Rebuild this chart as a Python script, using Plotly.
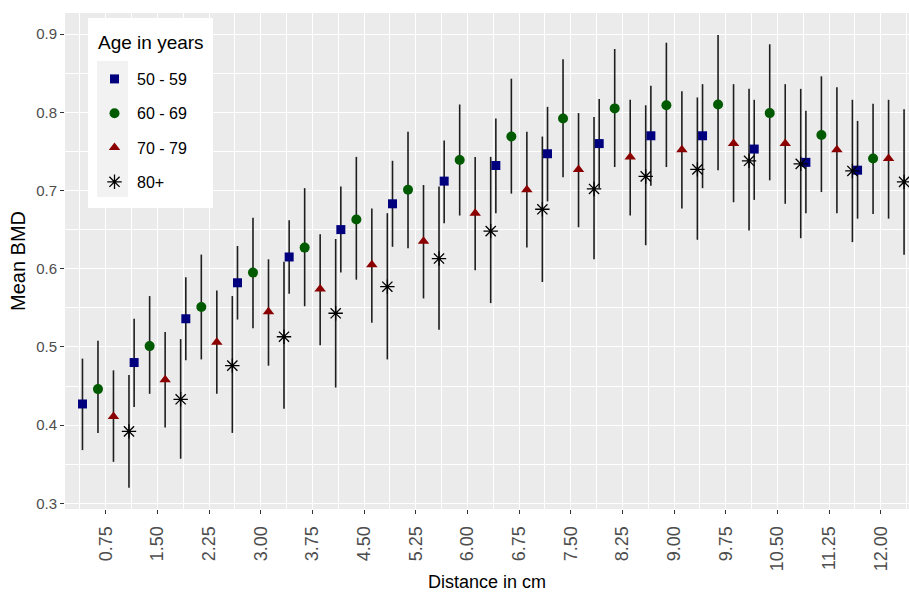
import plotly.graph_objects as go

# ---------------- data ----------------
distances = [0.75, 1.50, 2.25, 3.00, 3.75, 4.50, 5.25, 6.00,
             6.75, 7.50, 8.25, 9.00, 9.75, 10.50, 11.25, 12.00]

age_groups = ["50 - 59", "60 - 69", "70 - 79", "80+"]

mean_50_59 = [0.427, 0.480, 0.536, 0.582, 0.615, 0.650, 0.683, 0.712,
              0.732, 0.747, 0.760, 0.770, 0.770, 0.753, 0.736, 0.726]
low_50_59 = [0.368, 0.423, 0.483, 0.535, 0.568, 0.595, 0.628, 0.658,
             0.671, 0.686, 0.703, 0.706, 0.703, 0.688, 0.671, 0.664]
high_50_59 = [0.485, 0.536, 0.589, 0.629, 0.662, 0.705, 0.738, 0.764,
              0.792, 0.807, 0.817, 0.834, 0.836, 0.816, 0.802, 0.789]

mean_60_69 = [0.446, 0.501, 0.551, 0.595, 0.627, 0.663, 0.701, 0.739,
              0.769, 0.792, 0.805, 0.809, 0.810, 0.799, 0.771, 0.741]
low_60_69 = [0.390, 0.440, 0.484, 0.524, 0.552, 0.586, 0.626, 0.668,
             0.696, 0.717, 0.730, 0.730, 0.726, 0.713, 0.698, 0.670]
high_60_69 = [0.508, 0.565, 0.618, 0.665, 0.703, 0.743, 0.775, 0.810,
              0.843, 0.868, 0.881, 0.889, 0.899, 0.887, 0.846, 0.811]

mean_70_79 = [0.411, 0.458, 0.506, 0.545, 0.574, 0.605, 0.635, 0.671,
              0.701, 0.727, 0.743, 0.752, 0.760, 0.760, 0.752, 0.741]
low_70_79 = [0.353, 0.397, 0.440, 0.476, 0.502, 0.531, 0.562, 0.598,
             0.627, 0.653, 0.668, 0.677, 0.685, 0.683, 0.671, 0.664]
high_70_79 = [0.470, 0.519, 0.572, 0.612, 0.644, 0.677, 0.707, 0.743,
              0.775, 0.799, 0.816, 0.827, 0.836, 0.836, 0.832, 0.816]

mean_80 = [0.392, 0.433, 0.476, 0.513, 0.543, 0.577, 0.613, 0.648,
           0.676, 0.702, 0.718, 0.727, 0.738, 0.734, 0.725, 0.711]
low_80 = [0.320, 0.357, 0.390, 0.421, 0.448, 0.484, 0.522, 0.556,
          0.583, 0.612, 0.630, 0.637, 0.649, 0.639, 0.634, 0.618]
high_80 = [0.464, 0.510, 0.565, 0.609, 0.638, 0.671, 0.705, 0.743,
           0.769, 0.794, 0.809, 0.819, 0.830, 0.830, 0.816, 0.804]

y_tick_values = [0.3, 0.4, 0.5, 0.6, 0.7, 0.8, 0.9]
x_tick_values = distances

legend_title = "Age in years"

# ---------------- styling ----------------
series = [
    (age_groups[0], mean_50_59, low_50_59, high_50_59, "square", "#00007F", 9),
    (age_groups[1], mean_60_69, low_60_69, high_60_69, "circle", "#005A00", 10),
    (age_groups[2], mean_70_79, low_70_79, high_70_79, "triangle-up", "#8B0000", 10),
    (age_groups[3], mean_80, low_80, high_80, "asterisk-open", "#000000", 12),
]
dodge_width = 0.9
n = len(series)
offsets = [(i - (n - 1) / 2) * dodge_width / n for i in range(n)]

FONT = "Liberation Sans, Arial, sans-serif"

fig = go.Figure()

# error bars first (below points)
for (name, mean, low, high, sym, col, size), off in zip(series, offsets):
    xs = [d + off for d in distances]
    fig.add_trace(go.Scatter(
        x=xs, y=mean, mode="markers",
        marker=dict(size=1, opacity=0),
        error_y=dict(type="data", symmetric=False,
                     array=[h - m for h, m in zip(high, mean)],
                     arrayminus=[m - l for m, l in zip(mean, low)],
                     width=0, thickness=1.6, color="#1E1E1E"),
        showlegend=False, hoverinfo="skip",
    ))

for i, ((name, mean, low, high, sym, col, size), off) in enumerate(zip(series, offsets)):
    xs = [d + off for d in distances]
    if sym == "asterisk-open":
        marker = dict(symbol=sym, size=size, color=col, line=dict(color=col, width=1.3))
    else:
        marker = dict(symbol=sym, size=size, color=col, line=dict(width=0))
    fig.add_trace(go.Scatter(
        x=xs, y=mean, mode="markers", name=name,
        marker=marker, legendgroup=f"g{i}",
    ))

# pixel geometry helpers for legend box
L, R, T, B = 65, 909, 13, 509
def px_x(p):
    return (p - L) / (R - L)
def px_y(p):
    return (B - p) / (B - T)

fig.add_shape(type="rect", xref="paper", yref="paper",
              x0=px_x(88), x1=px_x(213), y0=px_y(208), y1=px_y(18),
              fillcolor="white", line=dict(width=0), layer="above")
fig.add_shape(type="rect", xref="paper", yref="paper",
              x0=px_x(97), x1=px_x(128), y0=px_y(197), y1=px_y(61),
              fillcolor="#F2F2F2", line=dict(width=0), layer="above")

fig.add_annotation(text=legend_title, xref="paper", yref="paper",
                   x=px_x(96), y=px_y(42), xanchor="left", yanchor="middle",
                   showarrow=False, font=dict(size=19, color="#000000", family=FONT))

fig.update_layout(
    width=909, height=592,
    margin=dict(l=L, r=909 - R, t=T, b=592 - B),
    paper_bgcolor="white",
    plot_bgcolor="#EBEBEB",
    font=dict(family=FONT, color="#000000"),
    legend=dict(
        font=dict(size=16, color="#000000"),
        x=px_x(92), xanchor="left",
        y=px_y(62), yanchor="top",
        bgcolor="rgba(0,0,0,0)",
        tracegroupgap=10.5,
        itemwidth=35,
    ),
    xaxis=dict(
        range=[0.159, 12.409],
        tickmode="array", tickvals=x_tick_values,
        ticktext=[f"{v:.2f}" for v in x_tick_values],
        tickangle=-90,
        tickfont=dict(size=18, color="#4D4D4D"),
        ticks="outside", ticklen=4, tickcolor="#333333", tickwidth=1,
        ticklabelstandoff=5,
        showgrid=True, gridcolor="white", gridwidth=1.2,
        minor=dict(tickmode="array",
                   tickvals=[d - 0.375 for d in distances] + [distances[-1] + 0.375],
                   showgrid=True, gridcolor="white", gridwidth=0.6, ticks=""),
        zeroline=False, showline=False,
        title=dict(text="Distance in cm", font=dict(size=18, color="#000000"), standoff=7),
        automargin=False,
    ),
    yaxis=dict(
        range=[0.2927, 0.927],
        tickmode="array", tickvals=y_tick_values,
        ticktext=[f"{v:.1f}" for v in y_tick_values],
        tickfont=dict(size=15, color="#4D4D4D"),
        ticks="outside", ticklen=4, tickcolor="#333333", tickwidth=1,
        showgrid=True, gridcolor="white", gridwidth=1.2,
        minor=dict(tickmode="array",
                   tickvals=[v + 0.05 for v in y_tick_values],
                   showgrid=True, gridcolor="white", gridwidth=0.6, ticks=""),
        zeroline=False, showline=False,
        title=dict(text="Mean BMD", font=dict(size=20, color="#000000"), standoff=5),
        automargin=False,
    ),
)

fig.write_html("out.html")
